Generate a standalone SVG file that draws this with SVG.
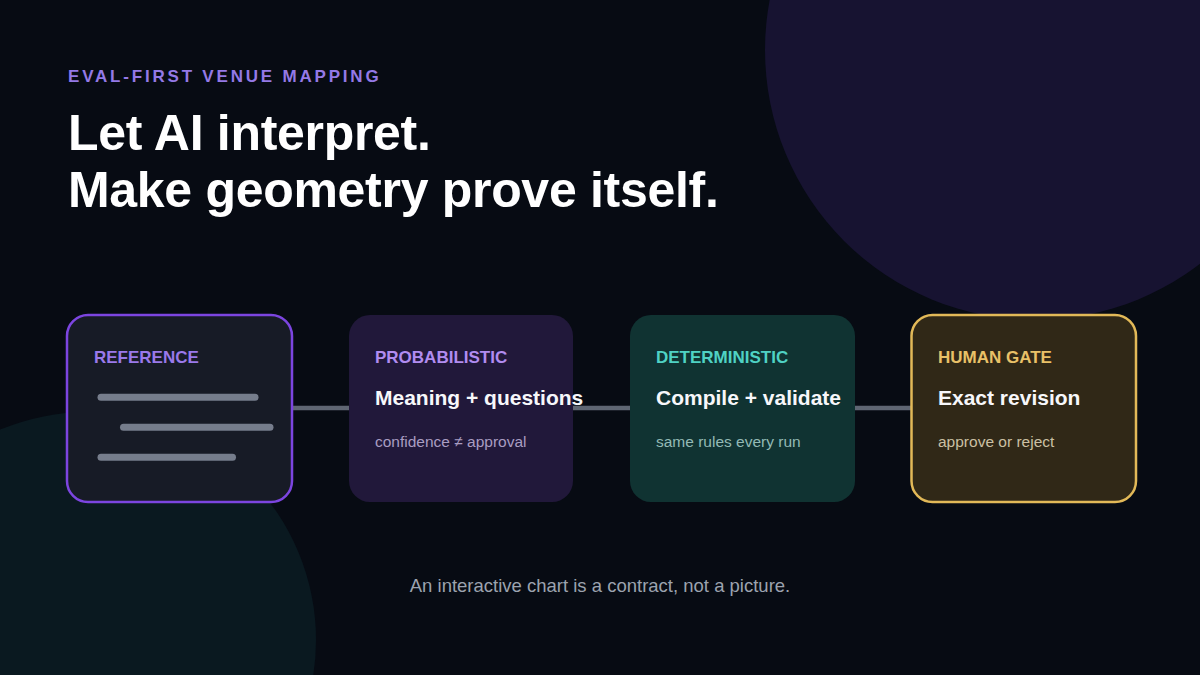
<svg xmlns="http://www.w3.org/2000/svg" width="1200" height="675" viewBox="0 0 1200 675">
  <style>
    .sans { font-family: "Liberation Sans", Arial, sans-serif; }
    .eyebrow { font-size: 17px; font-weight: bold; letter-spacing: 2.8px; fill: #9479e6; }
    .title { font-size: 50px; font-weight: bold; letter-spacing: -0.3px; fill: #ffffff; }
    .label { font-size: 17px; font-weight: bold; }
    .head { font-size: 21px; font-weight: bold; fill: #f7f7fa; }
    .sub { font-size: 15.5px; }
    .footer { font-size: 18.5px; fill: #9ca3af; }
    .bar { stroke: #767d8c; stroke-width: 7; stroke-linecap: round; }
    .conn { stroke: #5f6673; stroke-width: 4.5; fill: none; }
  </style>
  <rect x="0" y="0" width="1200" height="675" fill="#070b13"/>
  <circle cx="1035" cy="50" r="270" fill="#171331"/>
  <circle cx="88" cy="640" r="228" fill="#0a1920"/>

  <text class="sans eyebrow" x="68" y="82">EVAL-FIRST VENUE MAPPING</text>
  <text class="sans title" x="68" y="150">Let AI interpret.</text>
  <text class="sans title" x="68" y="207">Make geometry prove itself.</text>

  <g id="connectors">
    <line class="conn" x1="292" y1="408" x2="911" y2="408"/>
  </g>

  <g id="node-reference">
    <rect x="67" y="315" width="225" height="187" rx="21" fill="#171b26" stroke="#7c45e0" stroke-width="2.5"/>
    <text class="sans label" x="94" y="363" fill="#9a79ea">REFERENCE</text>
    <line class="bar" x1="101" y1="397.3" x2="255" y2="397.3"/>
    <line class="bar" x1="123.5" y1="427.3" x2="270" y2="427.3"/>
    <line class="bar" x1="101" y1="457.3" x2="232.5" y2="457.3"/>
  </g>

  <g id="node-probabilistic">
    <rect x="349" y="315" width="224" height="187" rx="21" fill="#21183a"/>
    <text class="sans label" x="375" y="363" fill="#b18cf0">PROBABILISTIC</text>
    <text class="sans head" x="375" y="405">Meaning + questions</text>
    <text class="sans sub" x="375" y="446.5" fill="#a99dc2">confidence ≠ approval</text>
  </g>

  <g id="node-deterministic">
    <rect x="630" y="315" width="225" height="187" rx="21" fill="#103332"/>
    <text class="sans label" x="656" y="363" fill="#4fd2c4">DETERMINISTIC</text>
    <text class="sans head" x="656" y="405">Compile + validate</text>
    <text class="sans sub" x="656" y="446.5" fill="#93bab5">same rules every run</text>
  </g>

  <g id="node-human-gate">
    <rect x="911.5" y="315" width="224.5" height="187" rx="21" fill="#302817" stroke="#e2b958" stroke-width="2.5"/>
    <text class="sans label" x="938" y="363" fill="#e9c168">HUMAN GATE</text>
    <text class="sans head" x="938" y="405">Exact revision</text>
    <text class="sans sub" x="938" y="446.5" fill="#cbc0a3">approve or reject</text>
  </g>

  <text class="sans footer" x="600" y="592" text-anchor="middle">An interactive chart is a contract, not a picture.</text>
</svg>
